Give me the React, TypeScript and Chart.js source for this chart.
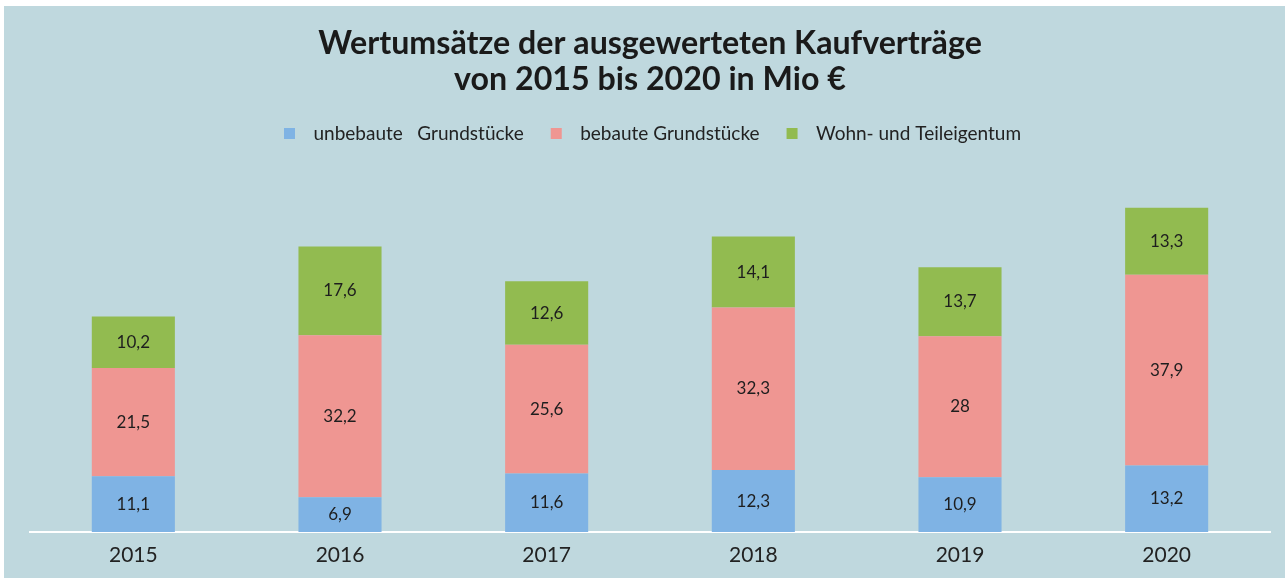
import React, { useEffect, useRef } from "react";
import { Chart, registerables } from "chart.js";

Chart.register(...registerables);

const years = ["2015", "2016", "2017", "2018", "2019", "2020"];
const unbebaute = [11.1, 6.9, 11.6, 12.3, 10.9, 13.2];
const bebaute = [21.5, 32.2, 25.6, 32.3, 28, 37.9];
const wohnTeil = [10.2, 17.6, 12.6, 14.1, 13.7, 13.3];
const seriesNames = ["unbebaute   Grundstücke", "bebaute Grundstücke", "Wohn- und Teileigentum"];
const titleLines = ["Wertumsätze der ausgewerteten Kaufverträge", "von 2015 bis 2020 in Mio €"];

const COLORS = ["#7fb3e4", "#ef9692", "#92bb50"];
const BG = "#bfd8de";
const FONT = "Lato";

function makeSwatch(color: string) {
  const c = document.createElement("canvas");
  c.width = 25;
  c.height = 11;
  const g = c.getContext("2d")!;
  g.fillStyle = color;
  g.fillRect(5, 0, 11, 11);
  return c;
}

const valueLabels = {
  id: "valueLabels",
  afterDatasetsDraw(chart: any) {
    const ctx = chart.ctx;
    ctx.save();
    ctx.font = `17px ${FONT}`;
    ctx.fillStyle = "#1e1e1e";
    ctx.textAlign = "center";
    ctx.textBaseline = "middle";
    chart.data.datasets.forEach((ds: any, di: number) => {
      const meta = chart.getDatasetMeta(di);
      meta.data.forEach((el: any, i: number) => {
        const v = ds.data[i];
        const y = (el.y + el.base) / 2;
        ctx.fillText(String(v).replace(".", ","), el.x, y);
      });
    });
    ctx.restore();
  },
};

export default function App() {
  const ref = useRef<HTMLCanvasElement | null>(null);
  useEffect(() => {
    if (!ref.current) return;
    const swatches = COLORS.map(makeSwatch);
    const chart = new Chart(ref.current, {
      type: "bar",
      data: {
        labels: years,
        datasets: [
          { label: seriesNames[0], data: unbebaute, backgroundColor: COLORS[0] },
          { label: seriesNames[1], data: bebaute, backgroundColor: COLORS[1] },
          { label: seriesNames[2], data: wohnTeil, backgroundColor: COLORS[2] },
        ],
      },
      options: {
        responsive: false,
        animation: false,
        layout: { padding: { left: 26, right: 15, top: 0, bottom: 0 } },
        datasets: { bar: { categoryPercentage: 1, barPercentage: 0.402, borderWidth: 0 } },
        scales: {
          x: {
            stacked: true,
            grid: { display: false, drawTicks: false },
            border: { display: true, color: "#ffffff", width: 2 },
            ticks: { font: { family: FONT, size: 21 }, color: "#222222", padding: 11 },
            afterFit: (scale: any) => {
              scale.height = 46;
            },
          },
          y: { stacked: true, display: false, min: 0, max: 75.2 },
        },
        plugins: {
          tooltip: { enabled: false },
          title: {
            display: true,
            text: titleLines,
            color: "#1a1a1a",
            font: { family: FONT, size: 32.2, weight: "bold", lineHeight: 1.118 },
            padding: { top: 20, bottom: 4.5 },
          },
          legend: {
            display: true,
            labels: {
              usePointStyle: true,
              pointStyleWidth: 25,
              boxHeight: 11,
              padding: 22,
              color: "#222222",
              font: { family: FONT, size: 19 },
              generateLabels: (c: any) =>
                Chart.defaults.plugins.legend.labels
                  .generateLabels(c)
                  .map((l: any, i: number) => ({ ...l, pointStyle: swatches[i] })),
            },
          },
        },
      },
      plugins: [valueLabels],
    } as any);
    return () => chart.destroy();
  }, []);
  return (
    <div style={{ position: "absolute", left: 0, top: 0, width: 1285, height: 578, background: "#ffffff" }}>
      <div style={{ position: "absolute", left: 4, top: 6, width: 1281, height: 572, background: BG }}>
        <canvas ref={ref} width={1281} height={572} style={{ display: "block", width: 1281, height: 572 }} />
      </div>
    </div>
  );
}
